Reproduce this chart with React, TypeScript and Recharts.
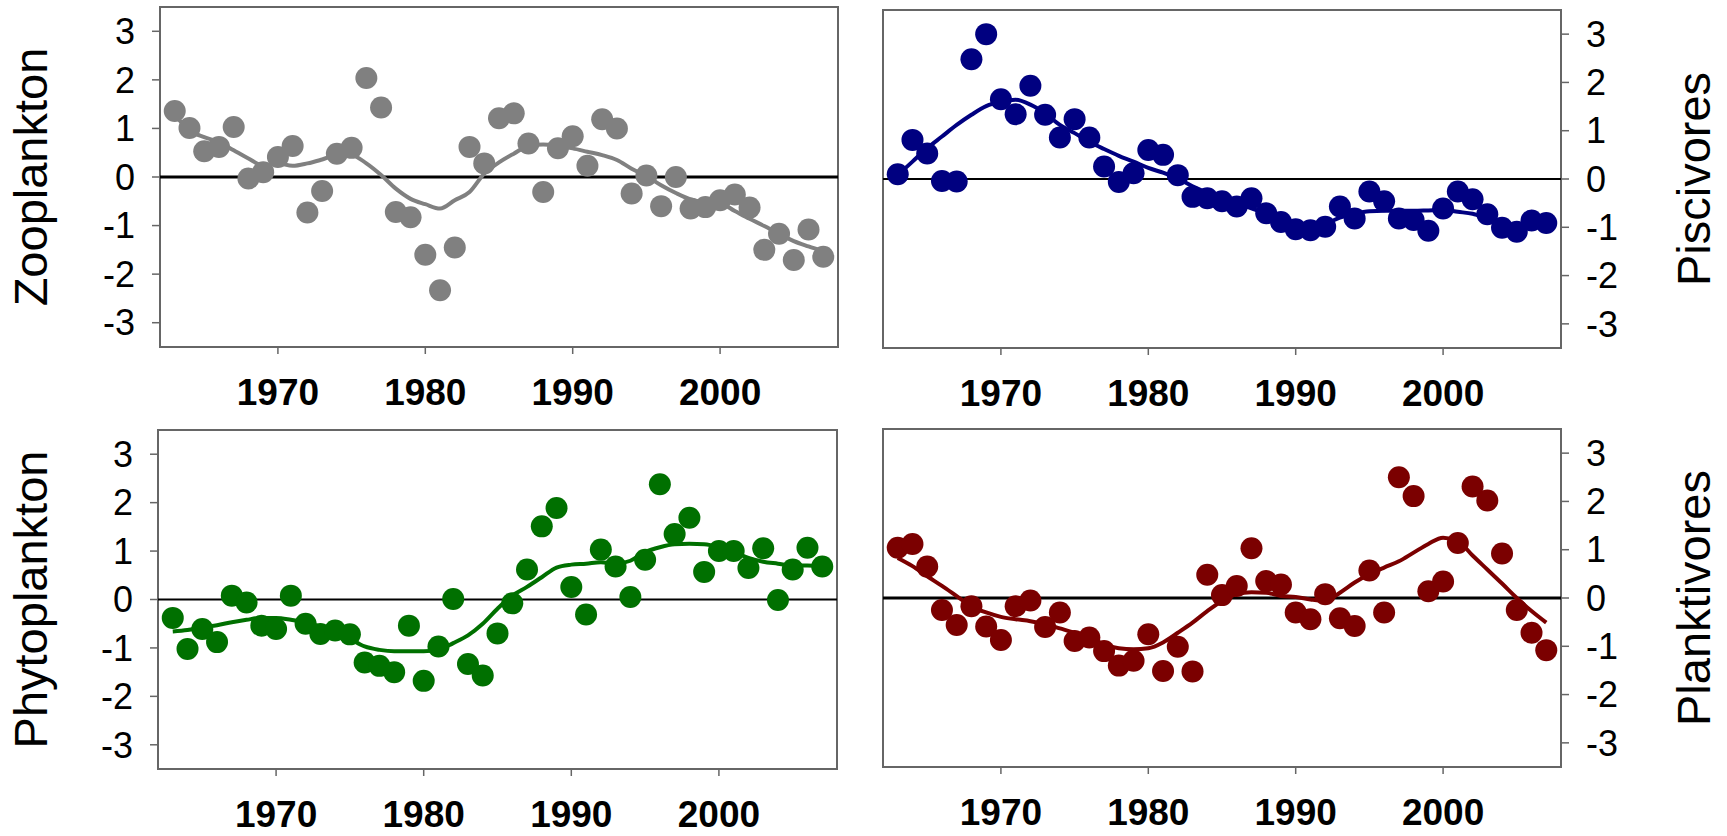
import { ComposedChart, Scatter, Line, XAxis, YAxis, ReferenceLine, ReferenceArea } from "recharts";

const years = [
  1963, 1964, 1965, 1966, 1967, 1968, 1969, 1970, 1971, 1972,
  1973, 1974, 1975, 1976, 1977, 1978, 1979, 1980, 1981, 1982,
  1983, 1984, 1985, 1986, 1987, 1988, 1989, 1990, 1991, 1992,
  1993, 1994, 1995, 1996, 1997, 1998, 1999, 2000, 2001, 2002,
  2003, 2004, 2005, 2006, 2007,
];

const zooplankton = [
  1.36, 1.01, 0.53, 0.62, 1.03, -0.03, 0.1, 0.41, 0.64, -0.73,
  -0.29, 0.48, 0.6, 2.04, 1.43, -0.72, -0.83, -1.6, -2.33, -1.45,
  0.62, 0.28, 1.21, 1.31, 0.69, -0.31, 0.59, 0.84, 0.23, 1.19,
  1.0, -0.34, 0.03, -0.6, 0.0, -0.65, -0.62, -0.48, -0.36, -0.63,
  -1.5, -1.17, -1.71, -1.08, -1.64,
];
const zooplanktonTrend = [
  1.28, 0.96, 0.82, 0.72, 0.55, 0.38, 0.24, 0.28, 0.23, 0.28,
  0.36, 0.45, 0.45, 0.28, 0.04, -0.24, -0.45, -0.56, -0.65, -0.48,
  -0.31, 0.07, 0.3, 0.48, 0.64, 0.67, 0.64, 0.59, 0.52, 0.45,
  0.35, 0.17, 0.02, -0.17, -0.33, -0.46, -0.52, -0.54, -0.7, -0.86,
  -1.01, -1.17, -1.32, -1.43, -1.53,
];

const piscivores = [
  0.1, 0.81, 0.53, -0.04, -0.05, 2.48, 3.0, 1.65, 1.34, 1.93,
  1.33, 0.86, 1.24, 0.86, 0.26, -0.06, 0.12, 0.6, 0.5, 0.08,
  -0.37, -0.4, -0.46, -0.57, -0.4, -0.71, -0.89, -1.04, -1.06, -0.99,
  -0.57, -0.82, -0.26, -0.46, -0.82, -0.85, -1.07, -0.61, -0.26, -0.42,
  -0.73, -1.01, -1.09, -0.86, -0.91,
];
const piscivoresTrend = [
  0.08, 0.36, 0.64, 0.88, 1.12, 1.33, 1.51, 1.6, 1.64, 1.54,
  1.36, 1.12, 0.95, 0.77, 0.62, 0.48, 0.36, 0.23, 0.13, 0.01,
  -0.15, -0.28, -0.4, -0.5, -0.61, -0.72, -0.85, -0.93, -0.95, -0.92,
  -0.8, -0.72, -0.67, -0.66, -0.66, -0.66, -0.65, -0.64, -0.68, -0.72,
  -0.82, -0.92, -0.98, -0.95, -0.91,
];

const phytoplankton = [
  -0.38, -1.02, -0.61, -0.88, 0.08, -0.06, -0.54, -0.61, 0.08, -0.5,
  -0.71, -0.64, -0.72, -1.3, -1.37, -1.5, -0.54, -1.68, -0.97, 0.01,
  -1.33, -1.57, -0.7, -0.08, 0.62, 1.51, 1.89, 0.26, -0.31, 1.03,
  0.68, 0.05, 0.82, 2.38, 1.35, 1.69, 0.57, 1.0, 1.0, 0.65,
  1.06, -0.01, 0.62, 1.07, 0.68,
];
const phytoplanktonTrend = [
  -0.66, -0.63, -0.57, -0.53, -0.47, -0.42, -0.38, -0.38, -0.42, -0.48,
  -0.56, -0.66, -0.81, -0.97, -1.04, -1.07, -1.07, -1.07, -1.04, -0.9,
  -0.74, -0.5, -0.19, 0.08, 0.26, 0.46, 0.66, 0.72, 0.74, 0.77,
  0.74, 0.8, 0.98, 1.08, 1.14, 1.15, 1.14, 1.08, 0.98, 0.86,
  0.78, 0.74, 0.7, 0.7, 0.67,
];

const planktivores = [
  1.04, 1.12, 0.65, -0.25, -0.56, -0.17, -0.59, -0.87, -0.17, -0.05,
  -0.6, -0.3, -0.89, -0.82, -1.1, -1.4, -1.3, -0.75, -1.51, -1.01,
  -1.52, 0.48, 0.06, 0.25, 1.03, 0.35, 0.28, -0.3, -0.44, 0.08,
  -0.42, -0.58, 0.57, -0.3, 2.5, 2.11, 0.14, 0.34, 1.14, 2.31,
  2.02, 0.92, -0.25, -0.72, -1.08,
];
const planktivoresTrend = [
  0.83, 0.66, 0.45, 0.25, 0.04, -0.17, -0.3, -0.39, -0.44, -0.48,
  -0.54, -0.63, -0.72, -0.82, -0.96, -1.04, -1.06, -1.04, -0.92, -0.72,
  -0.51, -0.27, -0.06, 0.08, 0.12, 0.11, 0.04, 0.02, -0.03, -0.06,
  0.11, 0.32, 0.49, 0.63, 0.76, 0.94, 1.12, 1.25, 1.18, 0.88,
  0.59, 0.3, 0.0, -0.27, -0.51,
];

const xTicks = [1970, 1980, 1990, 2000];
const yTicks = [-3, -2, -1, 0, 1, 2, 3];

const FONT = '"Liberation Sans", Arial, Helvetica, sans-serif';
const FRAME = "#666666";

type PanelProps = {
  title: string;
  values: number[];
  trend: number[];
  color: string;
  side: "left" | "right";
  left: number;
  top: number;
  width: number;
  margin: { top: number; right: number; bottom: number; left: number };
  axisWidth: number;
  zeroWidth: number;
};

const HEIGHT = 418;
const X_AXIS_HEIGHT = 60;

const XTick = (props: any) => (
  <text
    x={props.x}
    y={props.y}
    dy="0.71em"
    textAnchor="middle"
    fontSize={37}
    fontWeight="bold"
    fontFamily={FONT}
    fill="#000"
  >
    {props.payload.value}
  </text>
);

const YTick = (props: any) => (
  <text
    x={props.x}
    y={props.y}
    dy="0.355em"
    textAnchor={props.textAnchor}
    fontSize={36}
    fontFamily={FONT}
    fill="#000"
  >
    {props.payload.value}
  </text>
);

function Panel({ title, values, trend, color, side, left, top, width, margin, axisWidth, zeroWidth }: PanelProps) {
  const rows = years.map((year, i) => ({ year, value: values[i], trend: trend[i] }));
  const plotH = HEIGHT - margin.top - margin.bottom - X_AXIS_HEIGHT;
  const cy = margin.top + plotH / 2;
  const bx = side === "left" ? margin.left + 47 : width - margin.right - axisWidth + 149;

  const renderTitle = () => (
    <text
      x={bx}
      y={cy}
      transform={`rotate(-90 ${bx} ${cy})`}
      textAnchor="middle"
      fontSize={47}
      fontFamily={FONT}
      fill="#000"
    >
      {title}
    </text>
  );

  return (
    <div style={{ position: "absolute", left, top }}>
      <ComposedChart width={width} height={HEIGHT} data={rows} margin={margin}>
        <XAxis
          type="number"
          dataKey="year"
          domain={[1962, 2008]}
          ticks={xTicks}
          allowDataOverflow
          axisLine={false}
          tickLine={{ stroke: FRAME, strokeWidth: 1.5 }}
          tickSize={7}
          tickMargin={25}
          height={X_AXIS_HEIGHT}
          tick={XTick}
        />
        <YAxis
          type="number"
          orientation={side}
          domain={[-3.5, 3.5]}
          ticks={yTicks}
          allowDataOverflow
          axisLine={false}
          tickLine={{ stroke: FRAME, strokeWidth: 1.5 }}
          tickSize={8}
          tickMargin={17}
          width={axisWidth}
          tick={YTick}
          label={renderTitle}
        />
        <ReferenceLine y={0} stroke="#000" strokeWidth={zeroWidth} />
        <Scatter
          data={rows}
          dataKey="value"
          isAnimationActive={false}
          shape={(p: any) => <circle cx={p.cx} cy={p.cy} r={11} fill={color} />}
        />
        <Line
          type="monotone"
          dataKey="trend"
          stroke={color}
          strokeWidth={4}
          dot={false}
          activeDot={false}
          isAnimationActive={false}
        />
        <ReferenceArea x1={1962} x2={2008} y1={-3.5} y2={3.5} fill="none" stroke={FRAME} strokeWidth={2} />
      </ComposedChart>
    </div>
  );
}

export default function App() {
  return (
    <div style={{ position: "absolute", left: 0, top: 0, width: 1727, height: 836, background: "#fff" }}>
      <Panel
        title="Zooplankton"
        values={zooplankton}
        trend={zooplanktonTrend}
        color="#808080"
        side="left"
        left={0}
        top={0}
        width={860}
        margin={{ top: 7, right: 22, bottom: 11, left: 0 }}
        axisWidth={160}
        zeroWidth={3}
      />
      <Panel
        title="Piscivores"
        values={piscivores}
        trend={piscivoresTrend}
        color="#000080"
        side="right"
        left={860}
        top={0}
        width={867}
        margin={{ top: 10, right: 0, bottom: 10, left: 23 }}
        axisWidth={166}
        zeroWidth={2}
      />
      <Panel
        title="Phytoplankton"
        values={phytoplankton}
        trend={phytoplanktonTrend}
        color="#007000"
        side="left"
        left={0}
        top={418}
        width={860}
        margin={{ top: 12, right: 23, bottom: 7, left: 0 }}
        axisWidth={158}
        zeroWidth={2}
      />
      <Panel
        title="Planktivores"
        values={planktivores}
        trend={planktivoresTrend}
        color="#7b0000"
        side="right"
        left={860}
        top={418}
        width={867}
        margin={{ top: 11, right: 0, bottom: 9, left: 23 }}
        axisWidth={166}
        zeroWidth={3}
      />
    </div>
  );
}
